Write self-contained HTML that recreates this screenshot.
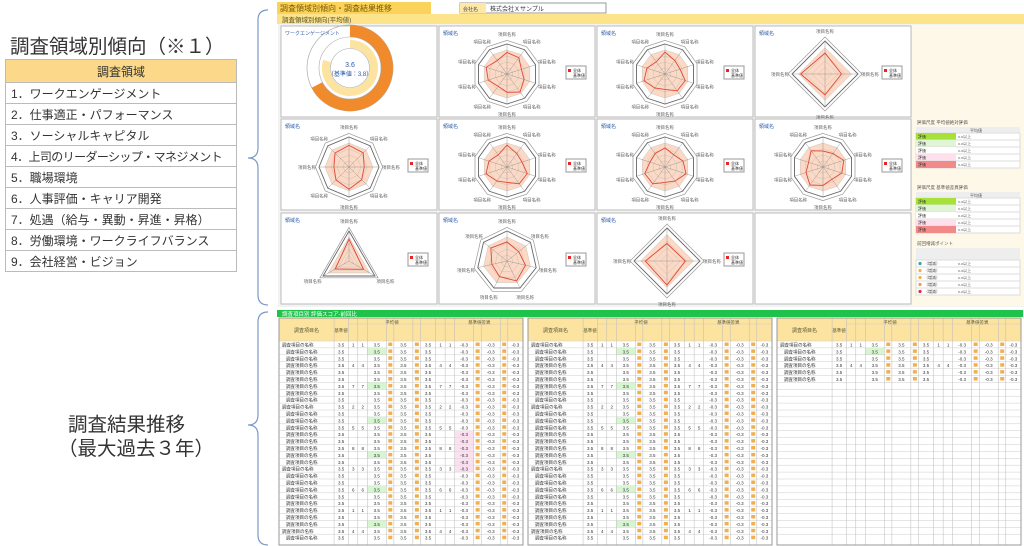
<!DOCTYPE html><html><head><meta charset="utf-8"><style>
body{margin:0;width:1024px;height:546px;background:#fff;position:relative;overflow:hidden;font-family:"Liberation Sans","Noto Sans CJK JP",sans-serif}
.a{position:absolute}
#lt td{border:1px solid #bbb;height:20px;padding:0 0 0 5px;font-size:12px;color:#333;white-space:nowrap}
</style></head><body>
<div class="a" style="left:10px;top:30px;font-size:19.5px;color:#333">調査領域別傾向（※１）</div>
<table id="lt" class="a" style="left:5px;top:59px;width:232px;border-collapse:collapse;table-layout:fixed">
<tr><td style="background:#fcd98a;text-align:center;height:22px;padding:0">調査領域</td></tr>
<tr><td>1．ワークエンゲージメント</td></tr><tr><td>2．仕事適正・パフォーマンス</td></tr><tr><td>3．ソーシャルキャピタル</td></tr><tr><td style="letter-spacing:-0.6px">4．上司のリーダーシップ・マネジメント</td></tr><tr><td>5．職場環境</td></tr><tr><td>6．人事評価・キャリア開発</td></tr><tr><td>7．処遇（給与・異動・昇進・昇格）</td></tr><tr><td>8．労働環境・ワークライフバランス</td></tr><tr><td>9．会社経営・ビジョン</td></tr></table>
<div class="a" style="left:68px;top:408px;font-size:19.5px;color:#333">調査結果推移</div>
<div class="a" style="left:58px;top:432px;font-size:19.5px;color:#333">（最大過去３年）</div>
<svg class="a" style="left:0;top:0" width="1024" height="546" id="s"></svg>
<script>
var s=document.getElementById('s'),h='';
function R(x,y,w,hh,f,st){h+='<rect x="'+x+'" y="'+y+'" width="'+w+'" height="'+hh+'" fill="'+f+'"'+(st?' stroke="'+st+'"':'')+'/>';}
function L(x1,y1,x2,y2,c,w){h+='<line x1="'+x1+'" y1="'+y1+'" x2="'+x2+'" y2="'+y2+'" stroke="'+c+'" stroke-width="'+(w||0.5)+'"/>';}
function T(x,y,t,sz,c,a){h+='<text x="'+x+'" y="'+y+'" font-size="'+sz+'" fill="'+(c||'#444')+'"'+(a?' text-anchor="'+a+'"':'')+'>'+t+'</text>';}
h+='<path d="M268,10 Q258,10 258,20 L258,148 Q258,158 248,158 Q258,158 258,168 L258,295 Q258,305 268,305" fill="none" stroke="#7a9bc8" stroke-width="1.2"/>';
h+='<path d="M268,312 Q258,312 258,322 L258,415 Q258,425 248,425 Q258,425 258,435 L258,535 Q258,545 268,545" fill="none" stroke="#7a9bc8" stroke-width="1.2"/>';
R(277,2,154,12,'#fcd35a');T(280,11,'調査領域別傾向・調査結果推移',8,'#7a5a00');
R(460,3,146,10,'#fff','#999');R(460,3,26,10,'#fde8a8');T(463,11,'会社名',5);T(490,11,'株式会社Ｘサンプル',6,'#333');
R(277,14,747,10,'#fde38a');T(282,22,'調査領域別傾向(平均値)',6.5,'#553');
R(278,24,746,283,'#f3f3f3');
R(912,25,112,281,'#fdf8e8');
var cx=[281,439,597,755],cy=[26,119,213],cw=156,ch=91;
var sides=[[0,10,10,4],[8,10,10,10],[3,7,4,-1]];
for(var r=0;r<3;r++)for(var c=0;c<4;c++){var x=cx[c],y=cy[r];R(x,y,cw,ch,'#fff','#bbb');var n=sides[r][c];if(n<0)continue;
 if(n==0){var X=350,Y=68;
  h+='<circle cx="'+X+'" cy="'+Y+'" r="43" fill="none" stroke="#aaa" stroke-width="0.7"/>';
  h+='<path d="M'+X+','+(Y-37)+' A37,37 0 1 1 '+(X-33)+','+(Y+17)+'" fill="none" stroke="#f08a2a" stroke-width="12"/>';
  h+='<circle cx="'+X+'" cy="'+Y+'" r="31" fill="none" stroke="#aaa" stroke-width="0.6"/>';
  h+='<path d="M'+X+','+(Y-24)+' A24,24 0 1 1 '+(X-23)+','+(Y-7)+'" fill="none" stroke="#fde3a0" stroke-width="8"/>';
  h+='<circle cx="'+X+'" cy="'+Y+'" r="19.5" fill="none" stroke="#aaa" stroke-width="0.6"/>';
  T(X,Y-1,'3.6',7,'#2a5aa8','middle');T(X,Y+8,'（基準値：3.8）',6,'#2a5aa8','middle');T(x+4,y+9,'ワークエンゲージメント',5,'#2a5aa8');continue;}
 var X=x+(n==4?70:68),Y=y+48,rr=n==4?33:30;
 function poly(k,ra){var p=[];for(var i=0;i<n;i++){var a=-Math.PI/2+2*Math.PI*i/n;var q=ra*(k?k(i):1);p.push((X+q*Math.cos(a)).toFixed(1)+','+(Y+q*Math.sin(a)).toFixed(1));}return p.join(' ');}
 h+='<polygon points="'+poly(null,rr*0.8)+'" fill="#fbd9c4"/>';
 for(var g=1;g<=5;g++)h+='<polygon points="'+poly(null,rr*g/5)+'" fill="none" stroke="'+(g==5?'#666':'#bbb')+'" stroke-width="'+(g==5?0.9:0.4)+'"/>';
 h+='<polygon points="'+poly(null,rr*1.12)+'" fill="none" stroke="#999" stroke-width="0.7"/>';
 for(var i=0;i<n;i++){var a=-Math.PI/2+2*Math.PI*i/n;L(X,Y,X+rr*Math.cos(a),Y+rr*Math.sin(a),'#888',0.4);T(X+(rr+12)*Math.cos(a),Y+(rr+10)*Math.sin(a)+2,'項目名称',4.5,'#666','middle');}
 h+='<polygon points="'+poly(function(i){return 0.62+0.12*Math.sin(i*1.7+r+c);},rr)+'" fill="none" stroke="#e0473a" stroke-width="0.9"/>';
 T(x+4,y+9,'領域名',5,'#2a5aa8');
 R(x+127,y+40,20,13,'#fff','#999');R(x+129,y+43,3,3,'#e22');T(x+134,y+46,'全体',4,'#333');T(x+134,y+51,'基準値',4,'#333');
}
function leg(y0,t,cols){T(917,y0,t,4.5,'#555');R(916,y0+3,104,6,'#eee');T(970,y0+8,'平均値',4,'#555');
 for(var i=0;i<5;i++){R(916,y0+9+i*7,104,7,'#fff','#ddd');R(916,y0+9+i*7,40,7,cols[i]);T(918,y0+14+i*7,'評価',4,'#333');T(958,y0+14+i*7,'x.x以上',4,'#555');}}
leg(124,'評価尺度 平均値絶対評価',['#a6e23a','#dff5d5','#fff','#fde0ec','#f28a8a']);
leg(189,'評価尺度 基準値差異評価',['#a6e23a','#dff5d5','#fff','#fde0ec','#f28a8a']);
T(917,245,'前回増減ポイント',4.5,'#555');R(916,248,104,12,'#eee');
var dc=['#3a9','#f3b04a','#f3b04a','#e9a04a','#d33'];
for(var i=0;i<5;i++){R(916,260+i*7,104,7,'#fff','#ddd');h+='<circle cx="920" cy="'+(263.5+i*7)+'" r="1.6" fill="'+dc[i]+'"/>';T(924,265+i*7,'（増減）',4,'#444');T(958,265+i*7,'x.x以上',4,'#555');}
R(277,310,746,7,'#1fc24a');T(282,316,'調査項目別 評価スコア-前回比',5.5,'#fff');
var tx=[279,528,777],tw=244,ws=[58,15,10,10,20,8,20,8,16,10,10,20,8,20,8,16];var sum=ws.reduce(function(a,b){return a+b});
for(var t=0;t<3;t++){var x0=tx[t],sc=tw/sum;R(x0,318,tw,227,'#fff');R(x0,318,tw,23,'#fde3a0');
 var xx=x0,xs=[x0];for(var k=0;k<ws.length;k++){xx+=ws[k]*sc;xs.push(xx);}
 T(x0+ws[0]*sc/2,332,'調査項目名',5,'#553','middle');T(xs[1]+7,332,'基準値',4.5,'#553','middle');
 T((xs[2]+xs[9])/2,324,'平均値',4.5,'#553','middle');T((xs[9]+xs[16])/2,324,'基準値差異',4.5,'#553','middle');
 var rows=t==2?6:29;
 for(var rr2=0;rr2<29;rr2++){var yy=341+rr2*6.9;L(x0,yy,x0+tw,yy,'#ccc',0.5);
  if(rr2<rows){T(x0+3+(rr2%9?4:0),yy+5.5,'調査項目の名称',4.5,'#333');
   for(var k=1;k<16;k++){if(k==2||k==3||k==9||k==10){if(rr2%3==0)T(xs[k]+5,yy+5.5,''+(1+rr2%8),4.5,'#333','middle');continue;}
    if(k==5||k==7||k==12||k==14){R(xs[k]+2,yy+1.5,4,3.5,'#f0b050');continue;}
    if(k==4&&rr2%5==1)R(xs[k],yy,xs[k+1]-xs[k],6.9,'#d7f5d0');
    if(k==11&&rr2>12&&rr2<19&&t==0)R(xs[k],yy,xs[k+1]-xs[k],6.9,'#fbe0f0');
    T((xs[k]+xs[k+1])/2,yy+5.5,k>10?'-0.3':'3.5',4.5,'#333','middle');}}}
 for(var k=0;k<=16;k++)L(xs[k],318,xs[k],545,'#bbb',0.5);
 L(xs[2],324,xs[16],324,'#ccc',0.5);R(x0,318,tw,227,'none','#999');
}
s.innerHTML=h;
</script></body></html>
